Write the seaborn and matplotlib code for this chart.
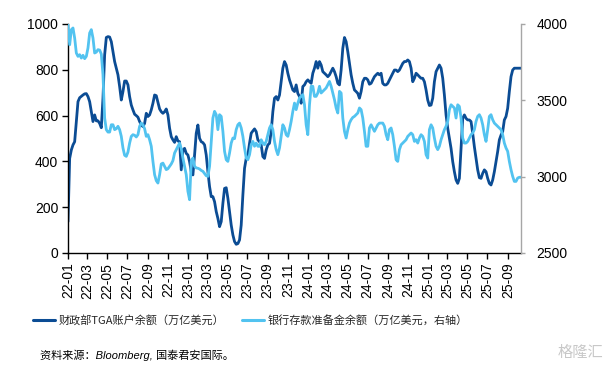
import numpy as np
import pandas as pd
import matplotlib
matplotlib.use("Agg")
import matplotlib.pyplot as plt
import matplotlib.dates as mdates
from matplotlib.lines import Line2D
import seaborn as sns

# ---------------- data ----------------
start_date = "2022-01-01"
end_date = "2025-10-11"

# TGA balance (left axis)
tga = [
    137, 413, 450, 472, 486, 574, 661, 678, 684, 690, 695, 696, 683, 661, 617, 574, 603, 577, 577, 566,
    547, 676, 865, 941, 945, 943, 923, 879, 836, 807, 778, 727, 668, 705, 751, 751, 734, 683, 646, 625,
    606, 600, 593, 574, 559, 552, 566, 610, 596, 603, 625, 654, 690, 687, 658, 629, 617, 610, 617, 629,
    603, 545, 508, 494, 483, 508, 489, 486,
    363, 450, 457, 435, 428, 399, 355, 341, 428, 523, 559, 501, 486, 482, 472, 428, 355, 290, 246, 246,
    224, 181, 151, 115, 137, 217, 282, 285, 239, 181, 122, 79, 50, 38, 41, 57, 122, 253, 370, 413,
    428, 479, 523, 533, 542, 530, 494, 486, 472, 421, 413, 450, 472, 479, 530, 617, 676, 683, 668, 690,
    748, 807, 836, 821, 785, 756, 734, 712, 705,
    734, 697, 683, 654, 727, 734, 748, 756, 748, 741, 785, 807, 836, 807, 836, 821, 792, 785, 778, 770,
    778, 792, 807, 792, 770, 741, 734, 799, 894, 941, 923, 879, 828, 778, 741, 712, 705, 697, 676, 705,
    748, 763, 763, 756, 737, 741, 756, 770, 778, 785, 778, 785, 741, 734, 734, 741, 756, 770, 785, 799,
    799, 792, 799, 814, 828, 836, 836, 843, 836,
    807, 748, 763, 785, 778, 770, 763, 763, 748, 712, 668, 644, 646, 676, 748, 792, 807, 821, 807, 763,
    690, 603, 545, 501, 457, 399, 355, 319, 304, 326, 457, 588, 603, 588, 581, 581, 574, 523, 464, 413,
    363, 329, 326, 348, 363, 355, 326, 304, 297, 319, 355, 399, 443, 494, 515, 530, 581, 596, 632, 705,
    770, 799, 807, 807, 807, 807, 807,
]

# Bank reserves (right axis)
reserves = [
    3995, 3864, 3963, 3974, 3908, 3810, 3788, 3799, 3777, 3795, 3773, 3788, 3843, 3941, 3963, 3908, 3810, 3816, 3832, 3829,
    3803, 3668, 3384, 3308, 3292, 3292, 3340, 3340, 3308, 3314, 3330, 3308, 3264, 3188, 3140, 3133, 3161, 3220, 3264, 3275,
    3271, 3260, 3275, 3330, 3351, 3340, 3314, 3264, 3275, 3242, 3199, 3100, 3013, 2974, 2958, 3013, 3083, 3089, 3068, 3046,
    3052, 3068, 3083, 3105, 3155, 3177, 3199, 3220,
    3183, 3122, 3068, 3013, 2904, 2849, 3100, 3122, 3068, 3057, 3055, 3050, 3041, 3035, 3020, 3006, 3002, 3068, 3231, 3384,
    3428, 3406, 3308, 3406, 3395, 3297, 3166, 3111, 3100, 3155, 3220, 3253, 3249, 3308, 3340, 3351, 3319, 3264, 3188, 3122,
    3111, 3144, 3209, 3231, 3199, 3220, 3199, 3199, 3242, 3220, 3209, 3231, 3275, 3319, 3340, 3308, 3231, 3177, 3144, 3188,
    3264, 3340, 3319, 3275, 3264, 3308, 3362, 3428, 3482,
    3439, 3482, 3515, 3526, 3537, 3471, 3340, 3275, 3471, 3592, 3592, 3526, 3526, 3548, 3592, 3548, 3559, 3570, 3581, 3602,
    3624, 3592, 3548, 3504, 3450, 3417, 3559, 3548, 3384, 3297, 3253, 3308, 3351, 3373, 3388, 3395, 3406, 3417, 3450, 3439,
    3384, 3297, 3199, 3199, 3319, 3340, 3319, 3297, 3319, 3340, 3351, 3351, 3351, 3330, 3275, 3242, 3308, 3319, 3275, 3199,
    3111, 3100, 3177, 3209, 3220, 3231, 3242, 3264, 3275,
    3286, 3275, 3231, 3242, 3220, 3253, 3275, 3264, 3231, 3144, 3122, 3308, 3340, 3319, 3253, 3199, 3177, 3199, 3242, 3275,
    3308, 3330, 3362, 3439, 3471, 3460, 3450, 3384, 3471, 3460, 3384, 3253, 3220, 3220, 3231, 3253, 3275, 3286, 3308, 3362,
    3395, 3406, 3384, 3340, 3275, 3231, 3308, 3395, 3406, 3373, 3351, 3340, 3330, 3319, 3308, 3275, 3220, 3188, 3166, 3100,
    3046, 3002, 2969, 2969, 2991, 2996, 2996,
]

left_ticks = [0, 200, 400, 600, 800, 1000]
right_ticks = [2500, 3000, 3500, 4000]
tick_months = [1, 3, 5, 7, 9, 11]
series_labels = ["财政部TGA账户余额（万亿美元）", "银行存款准备金余额（万亿美元，右轴）"]
source_text = "资料来源：Bloomberg, 国泰君安国际。"
watermark = "格隆汇"

DARK = "#0B4C94"
LIGHT = "#52C3F0"

dates = pd.date_range(start_date, end_date, periods=len(tga))
df = pd.DataFrame({"date": dates, "tga": tga, "reserves": reserves})

# ---------------- style ----------------
sns.set_theme(style="ticks")
plt.rcParams["font.family"] = ["Liberation Sans", "Noto Sans CJK SC", "DejaVu Sans"]
plt.rcParams["axes.unicode_minus"] = False

fig = plt.figure(figsize=(6.10, 3.69), dpi=100)
ax = fig.add_axes([68 / 610, 116 / 369, 453 / 610, 229 / 369])
ax2 = ax.twinx()

sns.lineplot(data=df, x="date", y="tga", ax=ax, color=DARK, linewidth=2.0, legend=False)
sns.lineplot(data=df, x="date", y="reserves", ax=ax2, color=LIGHT, linewidth=2.0, legend=False)

ax.set_xlim(dates[0], dates[-1])
ax.set_ylim(0, 1000)
ax2.set_ylim(2500, 4000)
ax.set_yticks(left_ticks)
ax2.set_yticks(right_ticks)

ax.xaxis.set_major_locator(mdates.MonthLocator(bymonth=tick_months))
ax.xaxis.set_major_formatter(mdates.DateFormatter("%y-%m"))

for a in (ax, ax2):
    a.set_xlabel("")
    a.set_ylabel("")

ax.spines["top"].set_visible(False)
ax.spines["right"].set_visible(False)
ax.spines["left"].set_color("black")
ax.spines["bottom"].set_color("black")
ax.spines["left"].set_linewidth(1.0)
ax.spines["bottom"].set_linewidth(1.0)
for s in ("top", "left", "bottom"):
    ax2.spines[s].set_visible(False)
ax2.spines["right"].set_color("#A6A6A6")
ax2.spines["right"].set_linewidth(1.0)

ax.tick_params(axis="y", direction="out", length=4, width=1, color="black",
               labelsize=10, labelcolor="black", pad=3)
ax.tick_params(axis="x", direction="out", length=4, width=1, color="black",
               labelsize=10, labelcolor="black", pad=3, labelrotation=90)
ax2.tick_params(axis="y", direction="out", length=3, width=1, color="#A6A6A6",
                labelsize=10, labelcolor="black", pad=8)

for lbl in ax.get_xticklabels():
    lbl.set_rotation(90)
    lbl.set_ha("center")

# legend
handles = [Line2D([], [], color=DARK, linewidth=2.2),
           Line2D([], [], color=LIGHT, linewidth=2.2)]
fig.legend(handles, series_labels, loc="center left",
           bbox_to_anchor=(33 / 610, 1 - 320 / 369), ncol=2, frameon=False,
           prop={"family": ["Noto Sans CJK SC", "DejaVu Sans"], "size": 8},
           handlelength=2.0, handletextpad=0.3, columnspacing=1.6,
           borderaxespad=0, borderpad=0)

fig.text(40 / 610, 1 - 355 / 369, source_text, fontsize=8, style="italic",
         family=["Liberation Sans", "Noto Sans CJK SC"], ha="left", va="center",
         color="black")

fig.text(603 / 610, 1 - 352 / 369, watermark, fontsize=11, color="#C8C8C8",
         family=["Noto Sans CJK SC"], ha="right", va="center")

fig.savefig("out.png", dpi=100)
